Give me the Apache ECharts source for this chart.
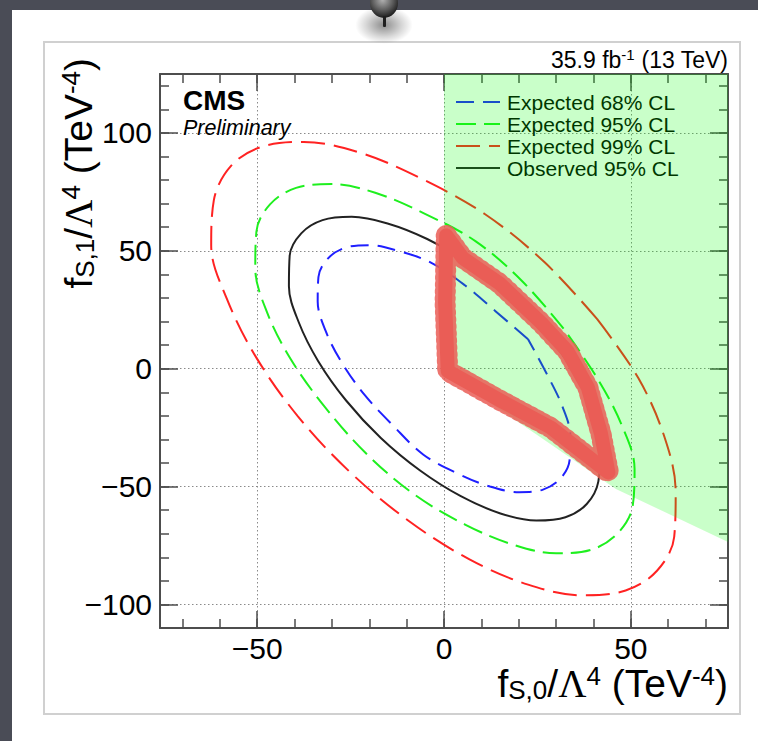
<!DOCTYPE html>
<html>
<head>
<meta charset="utf-8">
<script src="https://cdn.jsdelivr.net/npm/echarts@6.0.0/dist/echarts.min.js"></script>
<style>
html,body{margin:0;padding:0;width:758px;height:741px;overflow:hidden;background:#4a4c56;}
#panel{position:absolute;left:12px;top:10px;width:746px;height:731px;background:#fff;}
#frame{position:absolute;left:43px;top:41px;width:694px;height:670px;border:2px solid #d0d0d0;}
#pinshadow{position:absolute;left:355px;top:6px;width:58px;height:38px;border-radius:50%;background:radial-gradient(ellipse at center, rgba(0,0,0,0.45) 0%, rgba(0,0,0,0.15) 45%, rgba(0,0,0,0) 70%);}
#pin{position:absolute;left:370px;top:-12px;width:28px;height:30px;border-radius:50%;background:radial-gradient(circle at 45% 40%, #b0b0b0 0%, #5a5a5a 45%, #1c1c1c 75%);}
#needle{position:absolute;left:383px;top:16px;width:3px;height:11px;background:#1e1e1e;border-radius:1px;}
#c{position:absolute;left:0;top:0;width:758px;height:741px;}
</style>
</head>
<body>
<div id="panel"></div>
<div id="frame"></div>
<div id="pinshadow"></div>
<div id="pin"></div>
<div id="needle"></div>
<div id="c"></div>
<script>
// ---------- axis ranges and ticks ----------
const xMin = -76, xMax = 76;
const yMin = -110, yMax = 125;
const xMajorTicks = [-50, 0, 50];
const xMinorTicks = [-70, -60, -50, -40, -30, -20, -10, 0, 10, 20, 30, 40, 50, 60, 70];
const yMajorTicks = [-100, -50, 0, 50, 100];
const yMinorTicks = [-100, -90, -80, -70, -60, -50, -40, -30, -20, -10, 0, 10, 20, 30, 40, 50, 60, 70, 80, 90, 100, 110, 120];

// ---------- series names ----------
const seriesNames = ['Expected 68% CL', 'Expected 95% CL', 'Expected 99% CL', 'Observed 95% CL'];

// ---------- contour points (f_S0, f_S1) ----------
const expected68 = [
  [22.5, 12.5], [13.7, 24.5], [5.5, 35.5], [-3.5, 45], [-12.3, 50], [-20.1, 52.4], [-26.5, 51.3],
  [-31.1, 46.7], [-33.6, 38.9], [-33.8, 28.5], [-31.7, 16.1], [-27.4, 2.7], [-21.3, -11],
  [-13.7, -24], [-5.5, -36.5], [3.7, -44.5], [12.3, -50], [20.1, -52.4], [26.5, -51.3],
  [31.1, -46.7], [33.6, -38.9], [33.8, -28.5], [31.7, -16.1], [27.6, -2.5], [22.5, 12.5]
];
const expected95 = [
  [32, 17], [21, 37], [8.5, 54], [-5.5, 66], [-18.4, 74.6], [-30, 78.3], [-39.6, 76.7],
  [-46.5, 69.8], [-50.2, 58.2], [-50.5, 42.6], [-47.4, 24.1], [-41, 4], [-31.8, -16.4],
  [-20.5, -36.5], [-7.8, -53.5], [5.5, -66], [18.4, -74.6], [30, -78.3], [39.6, -76.7],
  [46.5, -69.8], [50.5, -58.2], [51, -42.6], [47.6, -24.1], [41, -4], [32, 17]
];
const expected99 = [
  [41, 21], [27, 45], [11, 65.5], [-6.5, 81], [-22.5, 91.6], [-37.5, 96.2], [-49, 94],
  [-57, 86], [-61.6, 71.4], [-62.3, 52.3], [-58.1, 29.6], [-50.3, 4.9], [-39.1, -20.2],
  [-25.2, -43.8], [-9.5, -64.5], [6.7, -80.8], [22.5, -91.6], [36.8, -96.1], [48.6, -94.1],
  [57, -85.7], [61.6, -71.4], [62, -52.3], [59, -29], [52, -4], [41, 21]
];
const observed95 = [
  [27, 16], [17.5, 31.5], [6.5, 45], [-4.5, 55], [-15.1, 61.6], [-24.7, 64.4], [-32.5, 63],
  [-38.2, 57.4], [-41.3, 47.9], [-41.5, 35], [-38.9, 19.8], [-33.7, 3.3], [-26.2, -13.5],
  [-16.9, -29.4], [-6.4, -43.2], [4.5, -54.1], [15.1, -61.4], [24.7, -64.4], [32.5, -63],
  [38.2, -57.4], [41.3, -47.9], [41.8, -35], [39.5, -18], [34.5, -1], [27, 16]
];
// observed scan band (red scribble) centre line
const observedBand = [
  [0.6, 56.5], [5, 47], [15, 36], [26, 19.5], [33, 7.5], [38.5, -8], [42, -27.5], [44, -44],
  [28.6, -25], [15.2, -13.6], [1, -1], [0.3, 28], [0.6, 56.5]
];
// shaded (green) region corners
const greenRegion = [[0, 125], [76, 125], [76, -73.5], [46, -51], [0, -1]];

// ---------- styling ----------
const FONT = '"Liberation Sans", Arial, Helvetica, sans-serif';
const SERIF = '"Liberation Serif", "DejaVu Serif", serif';
const AX = '#4d4d4d';
const fmt = v => String(v).replace('-', '\u2212');
const dashes = { blue: [18, 9], green: [20, 8], red: [24, 9] };
const colors = { blue: '#1f1fff', green: '#1fef1f', red: '#ff2222', black: '#222222' };

function xAxisDef(pos, major) {
  return {
    type: 'value', position: pos, min: xMin, max: xMax,
    axisLine: { show: major, onZero: false, lineStyle: { color: AX, width: 2 } },
    axisTick: { show: true, inside: true, length: major ? 17 : 9, customValues: major ? xMajorTicks : xMinorTicks,
      lineStyle: { color: AX, width: 1.5 } },
    axisLabel: { show: major && pos === 'bottom', customValues: xMajorTicks, formatter: fmt,
      fontSize: 30, lineHeight: 22, fontFamily: FONT, color: '#000', margin: 9 },
    splitLine: { show: major && pos === 'bottom', lineStyle: { color: '#8a8a8a', width: 1, type: [1.5, 2.5] } }
  };
}
function yAxisDef(pos, major) {
  return {
    type: 'value', position: pos, min: yMin, max: yMax,
    axisLine: { show: major, onZero: false, lineStyle: { color: AX, width: 2 } },
    axisTick: { show: true, inside: true, length: major ? 18 : 9, customValues: major ? yMajorTicks : yMinorTicks,
      lineStyle: { color: AX, width: 1.5 } },
    axisLabel: { show: major && pos === 'left', customValues: yMajorTicks, formatter: fmt,
      fontSize: 30, lineHeight: 26, fontFamily: FONT, color: '#000', margin: 8 },
    splitLine: { show: major && pos === 'left', lineStyle: { color: '#8a8a8a', width: 1, type: [1.5, 2.5] } }
  };
}

function contour(name, pts, color, dash) {
  return {
    type: 'line', name: name, data: pts, xAxisIndex: 0, yAxisIndex: 0,
    smooth: 0.35, symbol: 'none', showSymbol: false, silent: true, z: 3,
    lineStyle: { color: color, width: 2, type: dash }, itemStyle: { color: color }
  };
}

const titleRich = {
  m: { fontSize: 39, fontFamily: FONT, fill: '#000', lineHeight: 40 },
  g: { fontSize: 39, fontFamily: SERIF, fill: '#000', lineHeight: 40 },
  sub: { fontSize: 26, fontFamily: FONT, fill: '#000', lineHeight: 8, verticalAlign: 'bottom' },
  sup: { fontSize: 26, fontFamily: FONT, fill: '#000', lineHeight: 16, verticalAlign: 'top' }
};

function bandLayer(width, dash, opacity) {
  return (p, api) => ({
    type: 'polyline',
    shape: { points: observedBand.map(pt => api.coord(pt)) },
    style: { stroke: '#ea5d56', lineWidth: width, lineJoin: 'round', lineCap: 'round', fill: null,
      lineDash: dash, opacity: opacity }
  });
}

const chart = echarts.init(document.getElementById('c'), null, { renderer: 'svg' });
chart.setOption({
  animation: false,
  backgroundColor: 'transparent',
  grid: { left: 160, top: 74, right: 30, bottom: 113, containLabel: false },
  xAxis: [xAxisDef('bottom', true), xAxisDef('bottom', false), xAxisDef('top', true), xAxisDef('top', false)],
  yAxis: [yAxisDef('left', true), yAxisDef('left', false), yAxisDef('right', true), yAxisDef('right', false)],
  legend: {
    data: [
      { name: seriesNames[0], lineStyle: { type: dashes.blue, width: 2, color: colors.blue } },
      { name: seriesNames[1], lineStyle: { type: dashes.green, width: 2, color: colors.green } },
      { name: seriesNames[2], lineStyle: { type: dashes.red, width: 2, color: colors.red } },
      { name: seriesNames[3], lineStyle: { type: 'solid', width: 2, color: colors.black } }
    ],
    orient: 'vertical', left: 455, top: 91, padding: 0, itemGap: 0,
    itemWidth: 44, itemHeight: 12, selectedMode: false, z: 3,
    itemStyle: { opacity: 0 },
    textStyle: { fontSize: 21, fontFamily: FONT, color: '#000', lineHeight: 22, padding: [0, 0, 0, 2] }
  },
  series: [
    contour(seriesNames[0], expected68, colors.blue, dashes.blue),
    contour(seriesNames[1], expected95, colors.green, dashes.green),
    contour(seriesNames[2], expected99, colors.red, dashes.red),
    contour(seriesNames[3], observed95, colors.black, 'solid'),
    {
      type: 'custom', name: 'allowed', xAxisIndex: 0, yAxisIndex: 0, data: [0], z: 10, silent: true,
      renderItem: (p, api) => ({
        type: 'polygon',
        shape: { points: greenRegion.map(pt => api.coord(pt)) },
        style: { fill: 'rgba(0,255,0,0.21)' }
      })
    },
    { type: 'custom', name: 'scanFuzz', xAxisIndex: 0, yAxisIndex: 0, data: [0], z: 11, silent: true,
      renderItem: bandLayer(21, [2, 5], 0.85) },
    { type: 'custom', name: 'scan', xAxisIndex: 0, yAxisIndex: 0, data: [0], z: 12, silent: true,
      renderItem: bandLayer(14, null, 1) }
  ],
  graphic: [
    { type: 'text', x: 728, y: 60, z: 20,
      style: { text: '{m|35.9 fb}{sup|-1}{m| (13 TeV)}', align: 'right', verticalAlign: 'middle',
        rich: { m: { fontSize: 23, fontFamily: FONT, fill: '#000', lineHeight: 26 },
                sup: { fontSize: 15, fontFamily: FONT, fill: '#000', lineHeight: 14, verticalAlign: 'top' } } } },
    { type: 'text', x: 183, y: 89, z: 20,
      style: { text: '{cms|CMS}\n{pre|Preliminary}', align: 'left', verticalAlign: 'top',
        rich: { cms: { fontSize: 28, lineHeight: 22, fontWeight: 'bold', fontFamily: FONT, fill: '#000' },
                pre: { fontSize: 21.5, lineHeight: 34, fontStyle: 'italic', fontFamily: FONT, fill: '#000' } } } },
    { type: 'text', x: 728, y: 683, z: 20,
      style: { text: '{m|f}{sub|S,0}{m|/}{g|Λ}{sup|4}{m| (TeV}{sup|-4}{m|)}', align: 'right', verticalAlign: 'middle', rich: titleRich } },
    { type: 'text', x: 78, y: 58, rotation: Math.PI / 2, z: 20,
      style: { text: '{m|f}{sub|S,1}{m|/}{g|Λ}{sup|4}{m| (TeV}{sup|-4}{m|)}', align: 'right', verticalAlign: 'middle', rich: titleRich } }
  ]
});
</script>
</body>
</html>
